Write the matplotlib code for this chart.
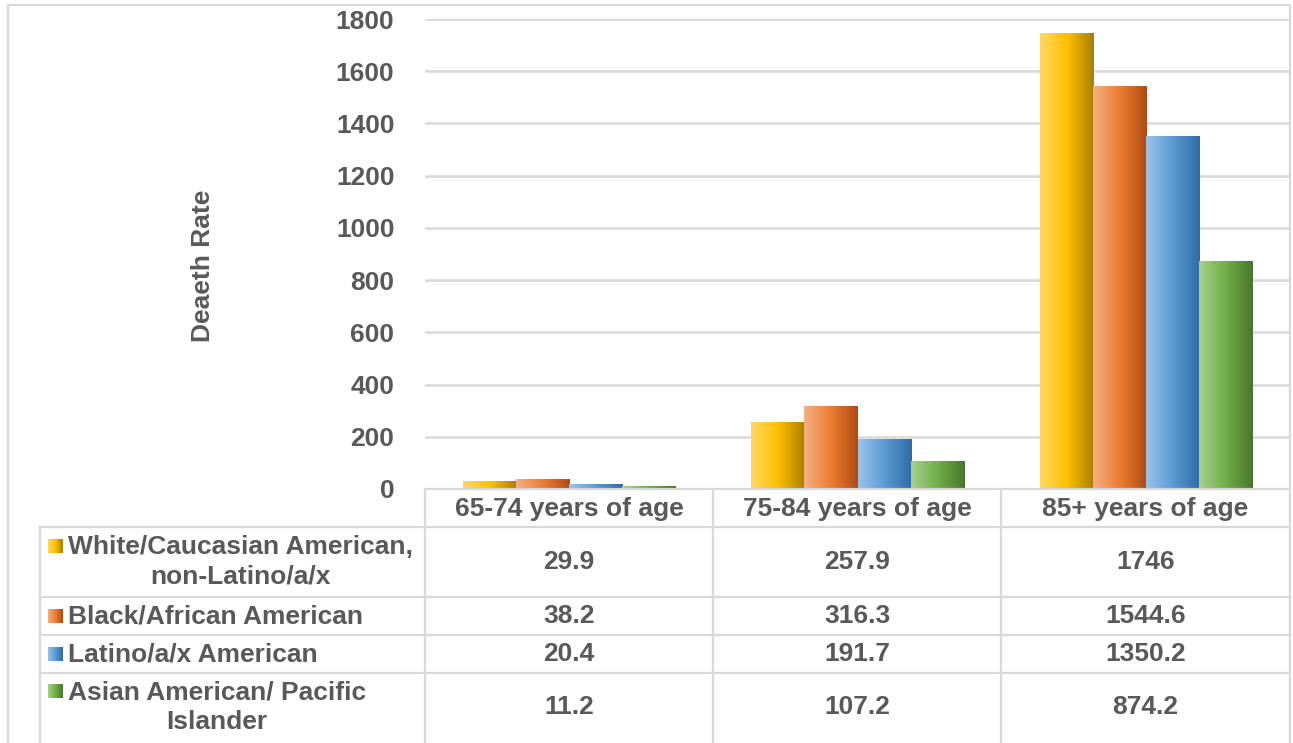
import matplotlib
matplotlib.use("Agg")
import matplotlib.pyplot as plt
import numpy as np
from matplotlib.colors import LinearSegmentedColormap

plt.rcParams['font.family'] = ['Liberation Sans', 'DejaVu Sans']
plt.rcParams['font.weight'] = 'bold'

age_groups = ['65-74 years of age', '75-84 years of age', '85+ years of age']
series = ['White/Caucasian American,\nnon-Latino/a/x', 'Black/African American',
          'Latino/a/x American', 'Asian American/ Pacific\nIslander']
white = [29.9, 257.9, 1746]
black = [38.2, 316.3, 1544.6]
latino = [20.4, 191.7, 1350.2]
asian = [11.2, 107.2, 874.2]
value_labels = [['29.9', '257.9', '1746'], ['38.2', '316.3', '1544.6'],
                ['20.4', '191.7', '1350.2'], ['11.2', '107.2', '874.2']]
yticks = [0, 200, 400, 600, 800, 1000, 1200, 1400, 1600, 1800]

# light -> base -> dark, like the office gradient fill
grads = [['#ffd966', '#ffc000', '#a97f00'],
         ['#f4b183', '#ed7d31', '#ad4b12'],
         ['#9dc3e6', '#5b9bd5', '#2f6ba3'],
         ['#a9d18e', '#70ad47', '#48762a']]
txt = '#595959'
line = '#d9d9d9'
fs = 19

W, H = 1293, 743
fig = plt.figure(figsize=(W / 100, H / 100), dpi=100)
ax = fig.add_axes([425 / W, 1 - 489 / H, 865 / W, 470 / H])

x = np.arange(len(age_groups))
bw = 0.184
grad_img = np.linspace(0, 1, 256).reshape(1, -1)
for i, vals in enumerate([white, black, latino, asian]):
    cmap = LinearSegmentedColormap.from_list('g%d' % i, grads[i])
    bars = ax.bar(x + (i - 1.5) * bw, vals, bw, color='none', zorder=3)
    for b in bars:
        x0, y0 = b.get_x(), b.get_y()
        im = ax.imshow(grad_img, cmap=cmap, aspect='auto', zorder=3,
                       extent=[x0, x0 + b.get_width(), y0, y0 + b.get_height()])
        im.set_clip_path(b)

ax.set_xlim(-0.5, 2.5)
ax.set_ylim(0, 1800)
ax.set_yticks(yticks)
ax.set_yticklabels([str(t) for t in yticks], fontsize=fs, color=txt, fontweight='bold')
ax.set_xticks([])
ax.tick_params(axis='y', length=0, pad=22)
ax.grid(axis='y', color=line, linewidth=1.8, zorder=0)
for s in ax.spines.values():
    s.set_visible(False)
ax.set_ylabel('Deaeth Rate', fontsize=fs, color=txt, fontweight='bold')
ax.yaxis.set_label_coords(-0.243, 0.474)

# overlay in pixel coordinates for the data table and chart border
ov = fig.add_axes([0, 0, 1, 1], zorder=5)
ov.set_xlim(0, W)
ov.set_ylim(H, 0)
ov.axis('off')
ov.patch.set_alpha(0)

cols = [425, 713, 1001, 1290]
rows = [527, 597, 635, 673, 745]
lw = 1.6
# chart border
ov.plot([8, 8, 1290, 1290], [H + 5, 5, 5, H + 5], color=line, lw=lw)
# header row
ov.plot([425, 1290], [489, 489], color=line, lw=lw)
for c in cols:
    ov.plot([c, c], [489, H + 5], color=line, lw=lw)
ov.plot([40, 40], [527, H + 5], color=line, lw=lw)
for r in rows[:-1]:
    ov.plot([40, 1290], [r, r], color=line, lw=lw)

for j, g in enumerate(age_groups):
    ov.text((cols[j] + cols[j + 1]) / 2, 509, g, ha='center', va='center',
            fontsize=fs, color=txt, fontweight='bold')

for i, name in enumerate(series):
    top, bot = rows[i], rows[i + 1]
    if i == 3:
        bot = 741
    mid = (top + bot) / 2
    ov.text(68, mid, name, ha='left', va='center', multialignment='center',
            fontsize=fs, color=txt, fontweight='bold', linespacing=1.3)
    nlines = name.count('\n') + 1
    ky = mid - (nlines - 1) * 16
    cmap = LinearSegmentedColormap.from_list('k%d' % i, grads[i])
    ov.imshow(grad_img, cmap=cmap, aspect='auto', extent=[48, 63, ky + 7, ky - 7])
    for j in range(3):
        ov.text((cols[j] + cols[j + 1]) / 2, mid, value_labels[i][j], ha='center',
                va='center', fontsize=fs, color=txt, fontweight='bold')
ov.set_xlim(0, W)
ov.set_ylim(H, 0)

fig.savefig('out.png', dpi=100)
